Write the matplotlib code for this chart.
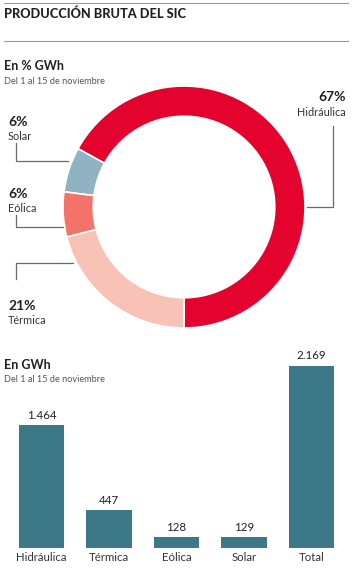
import matplotlib.pyplot as plt
import numpy as np

plt.rcParams["font.family"] = ["Lato", "DejaVu Sans"]

# ── data ─────────────────────────────────────────────────────────────────────
pie_labels = ["Hidráulica", "Solar", "Eólica", "Térmica"]
pie_pcts = [67, 6, 6, 21]
pie_colors = ["#e3032e", "#8fb3c2", "#f3736a", "#f9c2b7"]

bar_labels = ["Hidráulica", "Térmica", "Eólica", "Solar", "Total"]
bar_values = [1464, 447, 128, 129, 2169]
bar_text = ["1.464", "447", "128", "129", "2.169"]
bar_color = "#3d7888"

W, H = 360, 572
fig = plt.figure(figsize=(W / 100, H / 100), dpi=100)
fig.patch.set_facecolor("white")


def box(x0, y0, x1, y1):
    """pixel box (top-left origin) -> figure fraction rect"""
    return [x0 / W, 1 - y1 / H, (x1 - x0) / W, (y1 - y0) / H]


# overlay for headings and leader lines, in pixel coords
ov = fig.add_axes([0, 0, 1, 1])
ov.set_xlim(0, W)
ov.set_ylim(H, 0)
ov.axis("off")

ov.plot([4, 348], [3, 3], color="#9a9a9a", lw=0.8)
ov.plot([4, 348], [41, 41], color="#9a9a9a", lw=0.8)
ov.text(4, 14, "PRODUCCIÓN BRUTA DEL SIC", fontsize=9.2, fontweight="black",
        color="#222222", va="center")
ov.text(4, 66, "En % GWh", fontsize=9, fontweight="bold", color="#222222",
        va="center")
ov.text(4, 81, "Del 1 al 15 de noviembre", fontsize=6.6, color="#555555",
        va="center")

# ── donut ────────────────────────────────────────────────────────────────────
cx, cy, R = 184, 207, 121
ax = fig.add_axes(box(cx - R, cy - R, cx + R, cy + R))
ax.pie(pie_pcts, colors=pie_colors, startangle=-90, counterclock=True,
       radius=1, wedgeprops=dict(width=0.25, edgecolor="white", linewidth=1.2))
ax.set_xlim(-1, 1)
ax.set_ylim(-1, 1)
ax.set_aspect("equal")

lc = "#6b6b6b"
pct_kw = dict(va="center", fontsize=10, fontweight="bold", color="#222222")
lab_kw = dict(va="center", fontsize=7.8, color="#333333")
# Hidráulica
ov.plot([307, 333, 333], [207, 207, 126], color=lc, lw=0.9)
ov.text(346, 97, f"{pie_pcts[0]}%", ha="right", **pct_kw)
ov.text(346, 113, pie_labels[0], ha="right", **lab_kw)
# Solar
ov.plot([16, 16, 68], [143, 161, 161], color=lc, lw=0.9)
ov.text(8, 122, f"{pie_pcts[1]}%", **pct_kw)
ov.text(8, 136, pie_labels[1], **lab_kw)
# Eólica
ov.plot([16, 16, 63], [215, 227, 227], color=lc, lw=0.9)
ov.text(8, 194, f"{pie_pcts[2]}%", **pct_kw)
ov.text(8, 209, pie_labels[2], **lab_kw)
# Térmica
ov.plot([73, 16, 16], [263, 263, 279], color=lc, lw=0.9)
ov.text(8, 306, f"{pie_pcts[3]}%", **pct_kw)
ov.text(8, 321, pie_labels[3], **lab_kw)

# ── bars ─────────────────────────────────────────────────────────────────────
ov.text(4, 365, "En GWh", fontsize=9, fontweight="bold", color="#222222",
        va="center")
ov.text(4, 380, "Del 1 al 15 de noviembre", fontsize=6.6, color="#555555",
        va="center")

bx = fig.add_axes(box(7.75, 366, 345.25, 548))
x = np.arange(len(bar_values))
bx.bar(x, bar_values, width=0.667, color=bar_color)
bx.set_xlim(-0.5, len(bar_values) - 0.5)
bx.set_ylim(0, max(bar_values))
for xi, v, t in zip(x, bar_values, bar_text):
    bx.text(xi, v + max(bar_values) * 0.025, t, ha="center", va="bottom",
            fontsize=8.3, color="#222222", clip_on=False)
bx.set_xticks(x)
bx.set_xticklabels(bar_labels, fontsize=8.2, color="#333333")
bx.tick_params(axis="x", length=0, pad=3)
bx.set_yticks([])
for s in bx.spines.values():
    s.set_visible(False)
bx.patch.set_alpha(0)

fig.savefig("out.png", dpi=100)
